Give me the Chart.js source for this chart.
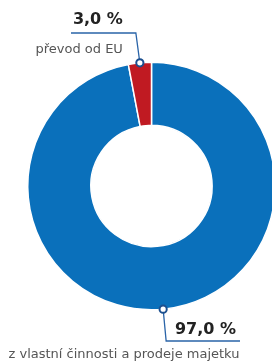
<!DOCTYPE html>
<html>
<head>
<meta charset="utf-8">
<script src="https://cdn.jsdelivr.net/npm/chart.js@4.4.0/dist/chart.umd.min.js"></script>
<style>
  html, body { margin: 0; padding: 0; background: #fff; overflow: hidden; }
  #wrap { width: 280px; height: 364px; }
</style>
</head>
<body>
<div id="wrap"><canvas id="chart" width="280" height="364"></canvas></div>
<script>
// data
const categories = ['z vlastní činnosti a prodeje majetku', 'převod od EU'];
const shares     = [97.0, 3.0];
const colors     = ['#0a70bb', '#c01a22'];

function fmtPct(v) {
  return v.toFixed(1).replace('.', ',') + ' %';
}

// leader lines + labels hung off each slice's outer midpoint
const leaderLabels = {
  id: 'leaderLabels',
  afterDraw(chart) {
    const ctx  = chart.ctx;
    const arcs = chart.getDatasetMeta(0).data;
    ctx.save();
    arcs.forEach((arc, i) => {
      const mid = (arc.startAngle + arc.endAngle) / 2;
      const mx  = arc.x + Math.cos(mid) * arc.outerRadius;
      const my  = arc.y + Math.sin(mid) * arc.outerRadius;
      const up  = my < arc.y;

      // elbow + end of the line
      const ex   = up ? mx - 4 : mx + 3;
      const ey   = up ? 33 : 341;
      const endX = up ? 71 : 240;

      ctx.strokeStyle = '#2a64a8';
      ctx.lineWidth = 1.3;
      ctx.beginPath();
      ctx.moveTo(mx, my);
      ctx.lineTo(ex, ey);
      ctx.lineTo(endX, ey);
      ctx.stroke();

      // marker
      ctx.beginPath();
      ctx.arc(mx, my, 3.6, 0, Math.PI * 2);
      ctx.fillStyle = '#fff';
      ctx.fill();
      ctx.lineWidth = 2;
      ctx.strokeStyle = '#1b4f8f';
      ctx.stroke();

      // texts
      ctx.fillStyle = '#222';
      ctx.font = 'bold 16px "DejaVu Sans"';
      ctx.textBaseline = 'alphabetic';
      ctx.textAlign = 'right';
      if (up) {
        ctx.fillText(fmtPct(shares[i]), ex - 13, 24);
        ctx.fillStyle = '#555';
        ctx.font = '13px "DejaVu Sans"';
        ctx.fillText(categories[i], ex - 13, 53);
      } else {
        ctx.fillText(fmtPct(shares[i]), endX - 4, 334);
        ctx.fillStyle = '#555';
        ctx.font = '13px "DejaVu Sans"';
        ctx.textAlign = 'center';
        ctx.fillText(categories[i], 124, 358);
      }
    });
    ctx.restore();
  }
};

new Chart(document.getElementById('chart'), {
  type: 'doughnut',
  data: {
    labels: categories,
    datasets: [{
      data: shares,
      backgroundColor: colors,
      borderColor: '#fff',
      borderWidth: 1.5,
      hoverOffset: 0
    }]
  },
  options: {
    responsive: false,
    animation: false,
    cutout: '49%',
    layout: { padding: { left: 27, right: 4, top: 61, bottom: 53 } },
    plugins: {
      legend: { display: false },
      tooltip: { enabled: false }
    }
  },
  plugins: [leaderLabels]
});
</script>
</body>
</html>
